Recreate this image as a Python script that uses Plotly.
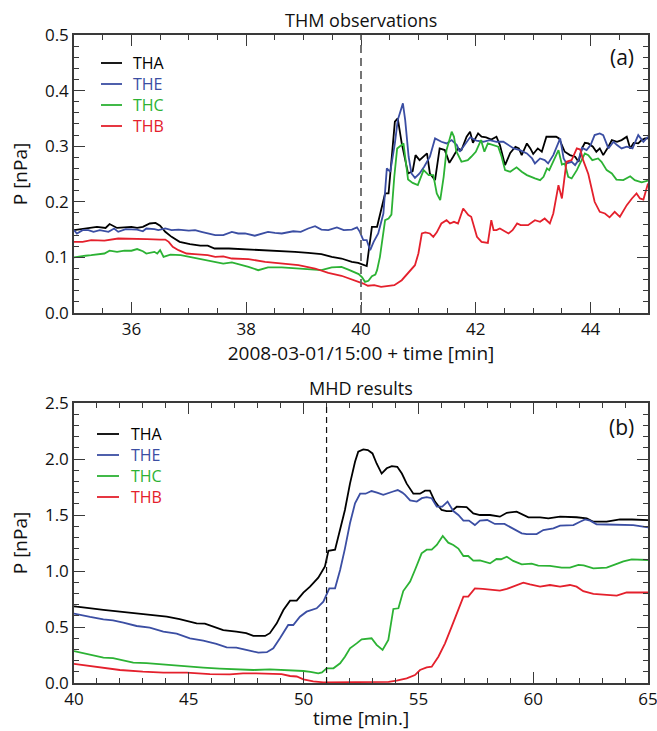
import plotly.graph_objects as go

# ---------------- data: THM observations (panel a) ----------------
obs_tha_t = [35.0, 35.2, 35.4, 35.55, 35.62, 35.75, 36.0, 36.1, 36.2, 36.32, 36.42, 36.5, 36.59, 36.7, 36.84,
             37.02, 37.2, 37.33, 37.45, 37.7, 37.92, 38.15, 38.4, 38.62, 38.85, 39.08, 39.31, 39.49, 39.66,
             39.84, 39.95, 40.1, 40.19, 40.28, 40.42, 40.48, 40.59, 40.64, 40.71, 40.82, 40.9, 40.95, 41.02,
             41.15, 41.2, 41.29, 41.37, 41.46, 41.54, 41.6, 41.69, 41.75, 41.84, 41.9, 41.95, 42.04, 42.1,
             42.18, 42.27, 42.36, 42.42, 42.51, 42.6, 42.69, 42.75, 42.8, 42.89, 42.95, 43.0, 43.08, 43.15,
             43.23, 43.3, 43.4, 43.45, 43.5, 43.55, 43.64, 43.73, 43.79, 43.85, 43.9, 43.96, 44.04, 44.1,
             44.16, 44.22, 44.31, 44.37, 44.46, 44.54, 44.63, 44.69, 44.75, 44.83, 44.89, 44.95, 45.0]
obs_tha_p = [0.149, 0.152, 0.155, 0.153, 0.16, 0.153, 0.155, 0.153, 0.155, 0.161, 0.162, 0.157, 0.146, 0.137, 0.128,
             0.124, 0.121, 0.121, 0.116, 0.116, 0.115, 0.113, 0.113, 0.112, 0.110, 0.108, 0.106, 0.101, 0.098,
             0.092, 0.090, 0.0845, 0.155, 0.155, 0.215, 0.215, 0.344, 0.35, 0.305, 0.251, 0.255, 0.284, 0.275,
             0.287, 0.251, 0.239, 0.296, 0.293, 0.27, 0.28, 0.296, 0.293, 0.317, 0.326, 0.306, 0.323, 0.317,
             0.316, 0.312, 0.317, 0.302, 0.266, 0.288, 0.299, 0.296, 0.284, 0.305, 0.296, 0.286, 0.296, 0.29,
             0.317, 0.317, 0.317, 0.314, 0.302, 0.29, 0.284, 0.281, 0.272, 0.296, 0.306, 0.305, 0.299, 0.290,
             0.296, 0.284, 0.299, 0.311, 0.308, 0.311, 0.317, 0.296, 0.306, 0.305, 0.311, 0.314, 0.314]

obs_the_t = [35.0, 35.05, 35.15, 35.25, 35.34, 35.45, 35.6, 35.7, 35.77, 35.9, 36.1, 36.2, 36.26, 36.4, 36.47,
             36.59, 36.7, 36.82, 37.0, 37.11, 37.22, 37.34, 37.46, 37.6, 37.75, 37.86, 37.98, 38.15, 38.38,
             38.5, 38.62, 38.82, 38.95, 39.08, 39.2, 39.31, 39.43, 39.58, 39.7, 39.84, 39.93, 39.98, 40.04,
             40.1, 40.16, 40.22, 40.3, 40.39, 40.45, 40.51, 40.59, 40.64, 40.73, 40.77, 40.83, 40.88, 40.94,
             41.02, 41.1, 41.2, 41.29, 41.4, 41.49, 41.58, 41.67, 41.72, 41.8, 41.9, 42.01, 42.13, 42.24,
             42.36, 42.48, 42.57, 42.66, 42.77, 42.89, 42.98, 43.03, 43.12, 43.2, 43.26, 43.35, 43.47, 43.53,
             43.58, 43.67, 43.73, 43.79, 43.85, 43.93, 44.0, 44.07, 44.16, 44.22, 44.31, 44.4, 44.46, 44.54,
             44.63, 44.73, 44.83, 44.92, 45.0]
obs_the_p = [0.149, 0.143, 0.149, 0.149, 0.146, 0.149, 0.146, 0.152, 0.146, 0.151, 0.150, 0.147, 0.152, 0.151, 0.149,
             0.152, 0.149, 0.150, 0.148, 0.149, 0.146, 0.143, 0.140, 0.140, 0.146, 0.143, 0.143, 0.139, 0.146,
             0.144, 0.143, 0.147, 0.146, 0.152, 0.156, 0.150, 0.149, 0.154, 0.149, 0.150, 0.154, 0.146, 0.131,
             0.131, 0.113, 0.128, 0.143, 0.179, 0.26, 0.254, 0.305, 0.347, 0.377, 0.347, 0.281, 0.251, 0.243,
             0.251, 0.263, 0.281, 0.314, 0.308, 0.305, 0.311, 0.302, 0.29, 0.302, 0.316, 0.31, 0.308, 0.311,
             0.308, 0.308, 0.302, 0.296, 0.293, 0.287, 0.278, 0.269, 0.278, 0.275, 0.269, 0.284, 0.314, 0.278,
             0.269, 0.272, 0.266, 0.275, 0.297, 0.293, 0.302, 0.32, 0.323, 0.32, 0.296, 0.308, 0.302, 0.296,
             0.299, 0.296, 0.32, 0.308, 0.317]

obs_thc_t = [35.0, 35.12, 35.2, 35.3, 35.4, 35.53, 35.62, 35.75, 35.88, 36.0, 36.1, 36.2, 36.26, 36.4, 36.45,
             36.5, 36.56, 36.68, 36.86, 37.02, 37.14, 37.3, 37.45, 37.6, 37.75, 37.86, 38.04, 38.21, 38.38,
             38.62, 38.85, 39.08, 39.31, 39.49, 39.66, 39.78, 39.9, 39.96, 40.02, 40.07, 40.13, 40.19, 40.25,
             40.28, 40.33, 40.42, 40.48, 40.53, 40.58, 40.63, 40.74, 40.79, 40.82, 40.9, 40.99, 41.09, 41.18,
             41.26, 41.32, 41.38, 41.44, 41.49, 41.58, 41.62, 41.66, 41.75, 41.86, 41.92, 42.0, 42.09, 42.15,
             42.21, 42.3, 42.39, 42.45, 42.51, 42.6, 42.71, 42.8, 42.89, 43.03, 43.12, 43.18, 43.24, 43.28,
             43.35, 43.44, 43.5, 43.55, 43.61, 43.67, 43.76, 43.85, 43.9, 43.96, 44.03, 44.13, 44.19, 44.28,
             44.37, 44.45, 44.57, 44.69, 44.77, 44.89, 45.0]
obs_thc_p = [0.100, 0.101, 0.103, 0.104, 0.105, 0.107, 0.112, 0.110, 0.112, 0.112, 0.115, 0.111, 0.107, 0.110, 0.107,
             0.113, 0.101, 0.105, 0.104, 0.101, 0.098, 0.095, 0.092, 0.089, 0.091, 0.088, 0.083, 0.077, 0.082,
             0.082, 0.080, 0.079, 0.077, 0.082, 0.083, 0.078, 0.073, 0.070, 0.064, 0.056, 0.058, 0.066, 0.069,
             0.077, 0.101, 0.167, 0.17, 0.177, 0.245, 0.296, 0.305, 0.269, 0.24, 0.234, 0.23, 0.257, 0.248,
             0.248, 0.215, 0.203, 0.245, 0.293, 0.326, 0.317, 0.291, 0.272, 0.275, 0.281, 0.29, 0.311, 0.29,
             0.305, 0.302, 0.299, 0.281, 0.257, 0.254, 0.262, 0.254, 0.248, 0.242, 0.239, 0.245, 0.26, 0.257,
             0.272, 0.293, 0.267, 0.269, 0.245, 0.242, 0.257, 0.275, 0.287, 0.284, 0.275, 0.278, 0.272, 0.257,
             0.251, 0.24, 0.239, 0.246, 0.239, 0.235, 0.238]

obs_thb_t = [35.0, 35.15, 35.3, 35.53, 35.77, 36.0, 36.27, 36.5, 36.59, 36.65, 36.72, 36.82, 36.96, 37.1, 37.33,
             37.46, 37.6, 37.75, 38.04, 38.33, 38.62, 38.91, 39.2, 39.43, 39.66, 39.9, 40.04, 40.12, 40.23,
             40.35, 40.47, 40.58, 40.71, 40.83, 40.94, 41.0, 41.06, 41.12, 41.2, 41.26, 41.32, 41.4, 41.49,
             41.55, 41.62, 41.69, 41.78, 41.87, 41.92, 42.02, 42.1, 42.21, 42.27, 42.31, 42.36, 42.42, 42.51,
             42.57, 42.64, 42.72, 42.78, 42.91, 43.03, 43.12, 43.2, 43.29, 43.35, 43.44, 43.5, 43.55, 43.58,
             43.67, 43.76, 43.82, 43.87, 43.96, 44.02, 44.07, 44.16, 44.25, 44.33, 44.42, 44.51, 44.63, 44.72,
             44.8, 44.86, 44.92, 45.0]
obs_thb_p = [0.128, 0.128, 0.131, 0.130, 0.134, 0.134, 0.133, 0.132, 0.132, 0.128, 0.119, 0.113, 0.107, 0.106, 0.104,
             0.101, 0.102, 0.098, 0.097, 0.092, 0.089, 0.086, 0.080, 0.072, 0.067, 0.059, 0.053, 0.049, 0.050,
             0.047, 0.048, 0.050, 0.059, 0.074, 0.086, 0.107, 0.143, 0.145, 0.143, 0.137, 0.145, 0.161, 0.167,
             0.161, 0.164, 0.161, 0.188, 0.176, 0.173, 0.137, 0.128, 0.126, 0.167, 0.149, 0.149, 0.152, 0.146,
             0.143, 0.149, 0.161, 0.158, 0.158, 0.167, 0.164, 0.170, 0.161, 0.179, 0.23, 0.206, 0.251, 0.272,
             0.275, 0.296, 0.294, 0.275, 0.25, 0.224, 0.2, 0.182, 0.179, 0.172, 0.182, 0.173, 0.194, 0.206,
             0.215, 0.206, 0.204, 0.233]

# ---------------- data: MHD results (panel b) ----------------
mhd_tha_t = [40.0, 40.12, 41.28, 41.96, 42.58, 43.3, 44.04, 44.6, 45.34, 45.7, 46.06, 46.5, 47.07, 47.5, 47.81,
             48.32, 48.53, 48.83, 49.12, 49.41, 49.7, 49.99, 50.28, 50.64, 50.93, 51.08, 51.37, 51.59, 51.8,
             52.02, 52.24, 52.38, 52.6, 52.8, 53.0, 53.18, 53.4, 53.62, 53.84, 54.08, 54.28, 54.49, 54.78,
             55.07, 55.29, 55.5, 55.72, 56.01, 56.23, 56.45, 56.67, 57.1, 57.39, 57.68, 58.12, 58.55, 58.85,
             59.28, 59.79, 60.3, 60.66, 61.17, 61.89, 62.33, 62.62, 63.2, 63.5, 63.78, 64.3, 64.65, 65.0]
mhd_tha_p = [0.685, 0.681, 0.652, 0.637, 0.622, 0.607, 0.592, 0.57, 0.533, 0.53, 0.503, 0.473, 0.458, 0.445, 0.42,
             0.42, 0.445, 0.533, 0.652, 0.735, 0.735, 0.807, 0.86, 0.94, 1.04, 1.18, 1.19, 1.37, 1.545,
             1.78, 1.976, 2.065, 2.086, 2.08, 2.05, 1.96, 1.87, 1.917, 1.937, 1.93, 1.87, 1.78, 1.69,
             1.69, 1.717, 1.717, 1.62, 1.545, 1.535, 1.535, 1.574, 1.57, 1.515, 1.5, 1.5, 1.485, 1.52,
             1.53, 1.479, 1.479, 1.47, 1.485, 1.48, 1.47, 1.44, 1.44, 1.45, 1.46, 1.46, 1.455, 1.455]

mhd_the_t = [40.0, 40.12, 40.7, 41.28, 41.7, 42.15, 42.73, 43.3, 43.89, 44.47, 45.05, 45.63, 46.2, 46.65, 47.07,
             47.5, 48.03, 48.4, 48.68, 48.97, 49.33, 49.55, 49.84, 50.13, 50.57, 50.86, 51.12, 51.37, 51.59,
             51.8, 52.02, 52.24, 52.46, 52.7, 52.96, 53.2, 53.47, 53.9, 54.1, 54.3, 54.42, 54.64, 54.93,
             55.15, 55.36, 55.58, 55.8, 56.04, 56.27, 56.52, 56.74, 56.96, 57.2, 57.46, 57.68, 58.0, 58.33,
             58.75, 59.13, 59.5, 59.72, 60.15, 60.44, 60.88, 61.17, 61.46, 61.75, 62.04, 62.26, 62.48, 62.76,
             63.2, 63.78, 64.36, 65.0]
mhd_the_p = [0.62, 0.616, 0.59, 0.568, 0.56, 0.539, 0.509, 0.495, 0.458, 0.44, 0.399, 0.378, 0.35, 0.318, 0.315,
             0.295, 0.271, 0.275, 0.31, 0.399, 0.518, 0.518, 0.592, 0.637, 0.667, 0.726, 0.845, 0.845, 1.009,
             1.2, 1.426, 1.604, 1.69, 1.69, 1.714, 1.7, 1.68, 1.71, 1.723, 1.7, 1.68, 1.63, 1.62,
             1.65, 1.66, 1.65, 1.575, 1.575, 1.62, 1.535, 1.5, 1.45, 1.45, 1.41, 1.45, 1.455, 1.42,
             1.42, 1.38, 1.336, 1.33, 1.33, 1.366, 1.38, 1.405, 1.405, 1.41, 1.44, 1.46, 1.45, 1.417,
             1.415, 1.41, 1.41, 1.39]

mhd_thc_t = [40.0, 40.12, 40.7, 41.28, 41.7, 42.15, 42.58, 43.16, 43.75, 44.33, 44.91, 45.63, 46.35, 47.07, 47.81,
             48.53, 49.26, 49.99, 50.3, 50.64, 50.8, 51.0, 51.3, 51.59, 51.8, 52.02, 52.31, 52.53, 52.96,
             53.18, 53.44, 53.69, 53.91, 54.13, 54.34, 54.64, 54.85, 55.14, 55.36, 55.58, 55.8, 56.06, 56.3,
             56.52, 56.74, 56.96, 57.17, 57.39, 57.68, 57.97, 58.12, 58.4, 58.6, 58.85, 59.13, 59.5, 59.93,
             60.22, 60.73, 61.24, 61.6, 61.97, 62.2, 62.62, 63.2, 63.64, 63.93, 64.29, 64.65, 65.0]
mhd_thc_p = [0.285, 0.28, 0.25, 0.226, 0.222, 0.199, 0.182, 0.178, 0.167, 0.162, 0.146, 0.137, 0.128, 0.122, 0.116,
             0.122, 0.116, 0.107, 0.1, 0.086, 0.095, 0.131, 0.131, 0.176, 0.235, 0.31, 0.354, 0.39, 0.399,
             0.34, 0.295, 0.384, 0.661, 0.667, 0.821, 0.905, 1.009, 1.158, 1.19, 1.19, 1.232, 1.313, 1.253,
             1.232, 1.2, 1.134, 1.134, 1.092, 1.095, 1.074, 1.068, 1.107, 1.105, 1.128, 1.09, 1.06, 1.065,
             1.048, 1.046, 1.03, 1.03, 1.054, 1.05, 1.024, 1.03, 1.063, 1.085, 1.104, 1.104, 1.098]

mhd_thb_t = [40.0, 40.12, 40.99, 42.0, 43.0, 43.89, 44.91, 45.92, 46.79, 47.36, 47.94, 48.5, 49.04, 49.41, 49.7,
             49.99, 50.42, 50.86, 51.5, 52.5, 53.18, 53.7, 54.05, 54.49, 54.85, 55.07, 55.36, 55.58, 55.87,
             56.16, 56.45, 56.74, 56.96, 57.17, 57.46, 57.8, 58.12, 58.55, 58.85, 59.13, 59.57, 59.86, 60.3,
             60.73, 61.17, 61.6, 61.89, 62.18, 62.62, 63.2, 63.64, 64.07, 64.5, 65.0]
mhd_thb_p = [0.17, 0.167, 0.14, 0.116, 0.101, 0.092, 0.092, 0.08, 0.077, 0.086, 0.086, 0.08, 0.08, 0.0625, 0.058,
             0.033, 0.015, 0.006, 0.006, 0.006, 0.01, 0.01, 0.021, 0.042, 0.071, 0.116, 0.14, 0.145, 0.235,
             0.354, 0.503, 0.652, 0.771, 0.771, 0.845, 0.84, 0.836, 0.824, 0.84, 0.86, 0.896, 0.88, 0.86,
             0.875, 0.86, 0.875, 0.86, 0.82, 0.795, 0.786, 0.78, 0.81, 0.81, 0.808]

names = ["THA", "THE", "THC", "THB"]
colors = ["#000000", "#3b4ea3", "#2cb234", "#e4202c"]
obs_onset = 40.0
mhd_onset = 51.0
title_a = "THM observations"
title_b = "MHD results"
xlabel_a = "2008-03-01/15:00 + time [min]"
xlabel_b = "time [min.]"
ylabel = "P [nPa]"

FONT = "Open Sans"
W, H = 657, 731
ML, MR, MT, MB = 74, 9, 35, 48
PW, PH = W - ML - MR, H - MT - MB
TOP_A, BOT_A = 35, 313
TOP_B, BOT_B = 403, 683


def fy(ypix):
    return (H - MB - ypix) / PH


fig = go.Figure()
obs_sets = [(obs_tha_t, obs_tha_p), (obs_the_t, obs_the_p), (obs_thc_t, obs_thc_p), (obs_thb_t, obs_thb_p)]
mhd_sets = [(mhd_tha_t, mhd_tha_p), (mhd_the_t, mhd_the_p), (mhd_thc_t, mhd_thc_p), (mhd_thb_t, mhd_thb_p)]
for (t, p), n, c in zip(obs_sets, names, colors):
    fig.add_trace(go.Scatter(x=t, y=p, mode="lines", line=dict(color=c, width=1.8), name=n,
                             xaxis="x", yaxis="y", showlegend=False))
for (t, p), n, c in zip(mhd_sets, names, colors):
    fig.add_trace(go.Scatter(x=t, y=p, mode="lines", line=dict(color=c, width=1.8), name=n,
                             xaxis="x2", yaxis="y2", showlegend=False))

TICKC = "#3a3a3a"
axis_common = dict(showline=True, linecolor=TICKC, linewidth=1.5, mirror="allticks",
                   ticks="inside", ticklen=11, tickwidth=1.3, tickcolor=TICKC,
                   showgrid=False, zeroline=False, automargin=False, ticklabeloverflow="allow",
                   tickfont=dict(family=FONT, size=17, color="#111111"))
minor_common = dict(ticklen=5, ticks="inside", tickcolor=TICKC, tickwidth=1.2)
title_font = dict(family=FONT, size=19, color="#111111")

fig.update_layout(
    width=W, height=H,
    margin=dict(l=ML, r=MR, t=MT, b=MB),
    paper_bgcolor="white", plot_bgcolor="white",
    font=dict(family=FONT, size=17, color="#111111"),
    showlegend=False,
    xaxis=dict(domain=[0, 1], anchor="y", range=[35, 45], dtick=2, tick0=36,
               minor=dict(dtick=0.5, **minor_common),
               title=dict(text=xlabel_a, standoff=1, font=title_font), **axis_common),
    yaxis=dict(domain=[fy(BOT_A), fy(TOP_A)], anchor="x", range=[0, 0.5], dtick=0.1, tickformat=".1f",
               minor=dict(dtick=0.02, **minor_common),
               title=dict(text=ylabel, standoff=12, font=title_font), **axis_common),
    xaxis2=dict(domain=[0, 1], anchor="y2", range=[40, 65], dtick=5,
                minor=dict(dtick=1, **minor_common),
                title=dict(text=xlabel_b, standoff=1, font=title_font), **axis_common),
    yaxis2=dict(domain=[fy(BOT_B), fy(TOP_B)], anchor="x2", range=[0, 2.5], dtick=0.5, tickformat=".1f",
                minor=dict(dtick=0.1, **minor_common),
                title=dict(text=ylabel, standoff=12, font=title_font), **axis_common),
)

fig.add_shape(type="line", xref="x", yref="y domain", x0=obs_onset, x1=obs_onset, y0=0, y1=1,
              line=dict(color="#666666", width=1.8, dash="8px,5px"))
fig.add_shape(type="line", xref="x2", yref="y2 domain", x0=mhd_onset, x1=mhd_onset, y0=0, y1=1,
              line=dict(color="#111111", width=1.2, dash="6px,4px"))

# panel titles and labels
for txt, top in [(title_a, TOP_A), (title_b, TOP_B)]:
    fig.add_annotation(text=txt, xref="paper", yref="paper", x=0.5, y=fy(top), yanchor="bottom",
                       showarrow=False, yshift=1, font=dict(family=FONT, size=18, color="#111111"))
fig.add_annotation(text="(a)", xref="x domain", yref="y domain", x=(636 - ML) / PW,
                   y=1 - (57 - TOP_A) / (BOT_A - TOP_A),
                   xanchor="right", yanchor="middle", showarrow=False,
                   font=dict(family=FONT, size=21, color="#111111"))
fig.add_annotation(text="(b)", xref="x2 domain", yref="y2 domain", x=(636 - ML) / PW,
                   y=1 - (427 - TOP_B) / (BOT_B - TOP_B),
                   xanchor="right", yanchor="middle", showarrow=False,
                   font=dict(family=FONT, size=21, color="#111111"))

# legends (one per panel): short colored line + colored label
legend_rows_a = [63, 84, 105, 126]
legend_rows_b = [434, 455, 476, 497]
for rows, sw0, sw1, tx in [(legend_rows_a, 101, 122, 131), (legend_rows_b, 97, 119, 129)]:
    for ypix, n, c in zip(rows, names, colors):
        fig.add_shape(type="line", xref="paper", yref="paper",
                      x0=(sw0 - ML) / PW, x1=(sw1 - ML) / PW, y0=fy(ypix), y1=fy(ypix),
                      line=dict(color=c, width=1.8))
        fig.add_annotation(text=n, xref="paper", yref="paper", x=(tx - ML) / PW, y=fy(ypix),
                           xanchor="left", yanchor="middle", showarrow=False,
                           font=dict(family=FONT, size=16, color=c))

fig.write_html("out.html", config={"displayModeBar": False},
               post_script="document.body.style.margin='0px';")
